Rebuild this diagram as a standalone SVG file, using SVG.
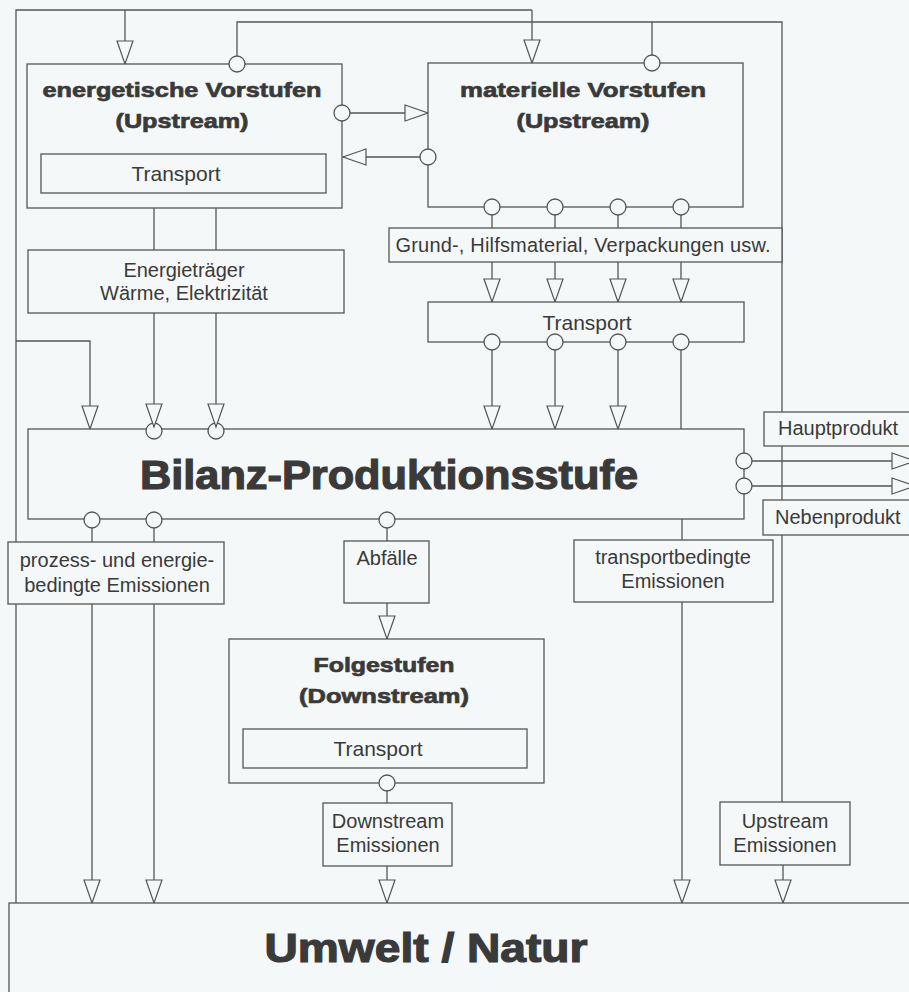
<svg xmlns="http://www.w3.org/2000/svg" width="909" height="992" viewBox="0 0 909 992">
<style>
.bx{fill:#f5f8f8;stroke:#555;stroke-width:1.3}
.ln{fill:none;stroke:#555;stroke-width:1.3}
.ar{fill:none;stroke:#555;stroke-width:1.3;marker-end:url(#tri)}
.pt{fill:#f5f8f8;stroke:#555;stroke-width:1.3}
.t{font-family:"Liberation Sans",Arial,sans-serif;font-size:20px;fill:#3a3a3a;text-anchor:middle}
.tl{font-family:"Liberation Sans",Arial,sans-serif;font-size:20px;fill:#3a3a3a}
.h{font-family:"Liberation Sans",Arial,sans-serif;font-size:21px;font-weight:bold;fill:#3a3a3a;stroke:#3a3a3a;stroke-width:0.7;text-anchor:middle}
.H{font-family:"Liberation Sans",Arial,sans-serif;font-size:40px;font-weight:900;fill:#3a3a3a;stroke:#3a3a3a;stroke-width:1.2;text-anchor:middle}
</style>
<defs>
<marker id="tri" markerUnits="userSpaceOnUse" markerWidth="26" markerHeight="18" refX="24" refY="8.5" orient="auto" overflow="visible">
<path d="M1,0.5 L24,8.5 L1,16.5 Z" fill="#f5f8f8" stroke="#555" stroke-width="1.2"/>
</marker>
</defs>
<rect x="0" y="0" width="909" height="992" fill="#f5f8f8"/>

<g id="connectors">
<polyline class="ln" points="16,903 16,10 532,10"/>
<polyline class="ar" points="532,10 532,63"/>
<polyline class="ar" points="125,10 125,64"/>
<polyline class="ar" points="16,341 90,341 90,429"/>
<polyline class="ln" points="237,64 237,22 782,22 782,802"/>
<polyline class="ln" points="652,63 652,22"/>
<polyline class="ar" points="783,865 783,903"/>
<polyline class="ar" points="342,113 428,113"/>
<polyline class="ar" points="428,157 343,157"/>
<line class="ln" x1="492" y1="207" x2="492" y2="228"/>
<line class="ln" x1="555" y1="207" x2="555" y2="228"/>
<line class="ln" x1="618" y1="207" x2="618" y2="228"/>
<line class="ln" x1="681" y1="207" x2="681" y2="228"/>
<polyline class="ar" points="492,262 492,302"/>
<polyline class="ar" points="555,262 555,302"/>
<polyline class="ar" points="618,262 618,302"/>
<polyline class="ar" points="681,262 681,302"/>
<polyline class="ar" points="492,342 492,429"/>
<polyline class="ar" points="555,342 555,429"/>
<polyline class="ar" points="618,342 618,429"/>
<line class="ln" x1="681" y1="342" x2="681" y2="429"/>
<line class="ln" x1="154" y1="208" x2="154" y2="250"/>
<line class="ln" x1="216" y1="208" x2="216" y2="250"/>
<line class="ln" x1="92" y1="520" x2="92" y2="542"/>
<line class="ln" x1="154" y1="520" x2="154" y2="542"/>
<polyline class="ar" points="92,604 92,903"/>
<polyline class="ar" points="154,604 154,903"/>
<line class="ln" x1="387" y1="520" x2="387" y2="541"/>
<polyline class="ar" points="387,603 387,639"/>
<line class="ln" x1="682" y1="519" x2="682" y2="540"/>
<polyline class="ar" points="682,602 682,903"/>
<line class="ln" x1="387" y1="783" x2="387" y2="803"/>
<polyline class="ar" points="387,866 387,903"/>
<polyline class="ar" points="744,461 915,461"/>
<polyline class="ar" points="744,486 915,486"/>
</g>

<g id="energetische">
<rect class="bx" x="27" y="64" width="315" height="144"/>
<text class="h" x="182" y="97" textLength="279" lengthAdjust="spacingAndGlyphs">energetische Vorstufen</text>
<text class="h" x="182" y="128" textLength="133" lengthAdjust="spacingAndGlyphs">(Upstream)</text>
<rect class="bx" x="41" y="154" width="285" height="39"/>
<text class="t" x="176" y="181" style="font-size:21px">Transport</text>
</g>

<g id="materielle">
<rect class="bx" x="428" y="63" width="315" height="144"/>
<text class="h" x="583" y="97" textLength="246" lengthAdjust="spacingAndGlyphs">materielle Vorstufen</text>
<text class="h" x="583" y="128" textLength="133" lengthAdjust="spacingAndGlyphs">(Upstream)</text>
</g>

<g id="grund">
<rect class="bx" x="389" y="228" width="393" height="34"/>
<text class="t" x="583" y="252" textLength="375">Grund-, Hilfsmaterial, Verpackungen usw.</text>
</g>

<g id="transport-mat">
<rect class="bx" x="428" y="302" width="316" height="40"/>
<text class="t" x="587" y="330" style="font-size:21px">Transport</text>
</g>

<g id="energietraeger">
<rect class="bx" x="28" y="250" width="316" height="63"/>
<text class="t" x="184" y="277">Energieträger</text>
<text class="t" x="184" y="300">Wärme, Elektrizität</text>
</g>

<g id="bilanz">
<rect class="bx" x="28" y="429" width="716" height="90"/>
<text class="H" x="389" y="489" textLength="498" lengthAdjust="spacingAndGlyphs">Bilanz-Produktionsstufe</text>
</g>

<g id="hauptprodukt">
<rect class="bx" x="764" y="412" width="160" height="34"/>
<text class="tl" x="778" y="435">Hauptprodukt</text>
</g>

<g id="nebenprodukt">
<rect class="bx" x="763" y="500" width="160" height="35"/>
<text class="tl" x="775" y="524">Nebenprodukt</text>
</g>

<g id="prozess">
<rect class="bx" x="8" y="542" width="216" height="62"/>
<text class="t" x="117" y="567">prozess- und energie-</text>
<text class="t" x="117" y="592">bedingte Emissionen</text>
</g>

<g id="abfaelle">
<rect class="bx" x="344" y="541" width="85" height="62"/>
<text class="t" x="387" y="565">Abfälle</text>
</g>

<g id="transportbedingt">
<rect class="bx" x="574" y="540" width="199" height="62"/>
<text class="t" x="673" y="564">transportbedingte</text>
<text class="t" x="673" y="588">Emissionen</text>
</g>

<g id="folgestufen">
<rect class="bx" x="229" y="639" width="315" height="144"/>
<text class="h" x="384" y="672" textLength="141" lengthAdjust="spacingAndGlyphs">Folgestufen</text>
<text class="h" x="384" y="703" textLength="170" lengthAdjust="spacingAndGlyphs">(Downstream)</text>
<rect class="bx" x="243" y="729" width="284" height="39"/>
<text class="t" x="378" y="756" style="font-size:21px">Transport</text>
</g>

<g id="downstream-em">
<rect class="bx" x="323" y="803" width="129" height="63"/>
<text class="t" x="388" y="828">Downstream</text>
<text class="t" x="388" y="852">Emissionen</text>
</g>

<g id="upstream-em">
<rect class="bx" x="720" y="802" width="130" height="63"/>
<text class="t" x="785" y="828">Upstream</text>
<text class="t" x="785" y="852">Emissionen</text>
</g>

<g id="umwelt">
<rect class="bx" x="9" y="903" width="920" height="100"/>
<text class="H" x="426" y="962" textLength="323" lengthAdjust="spacingAndGlyphs">Umwelt / Natur</text>
</g>

<g id="ports">
<circle class="pt" cx="237" cy="64" r="8"/>
<circle class="pt" cx="652" cy="63" r="8"/>
<circle class="pt" cx="342" cy="113" r="8"/>
<circle class="pt" cx="428" cy="157" r="8"/>
<circle class="pt" cx="492" cy="207" r="8"/>
<circle class="pt" cx="555" cy="207" r="8"/>
<circle class="pt" cx="618" cy="207" r="8"/>
<circle class="pt" cx="681" cy="207" r="8"/>
<circle class="pt" cx="492" cy="342" r="8"/>
<circle class="pt" cx="555" cy="342" r="8"/>
<circle class="pt" cx="618" cy="342" r="8"/>
<circle class="pt" cx="681" cy="342" r="8"/>
<circle class="pt" cx="154" cy="431" r="8"/>
<circle class="pt" cx="216" cy="431" r="8"/>
<circle class="pt" cx="92" cy="520" r="8"/>
<circle class="pt" cx="154" cy="520" r="8"/>
<circle class="pt" cx="387" cy="520" r="8"/>
<circle class="pt" cx="744" cy="461" r="8"/>
<circle class="pt" cx="744" cy="486" r="8"/>
<circle class="pt" cx="387" cy="783" r="8"/>
</g>
<g id="port-arrows">
<polyline class="ar" points="154,313 154,427"/>
<polyline class="ar" points="216,313 216,427"/>
</g>
</svg>
